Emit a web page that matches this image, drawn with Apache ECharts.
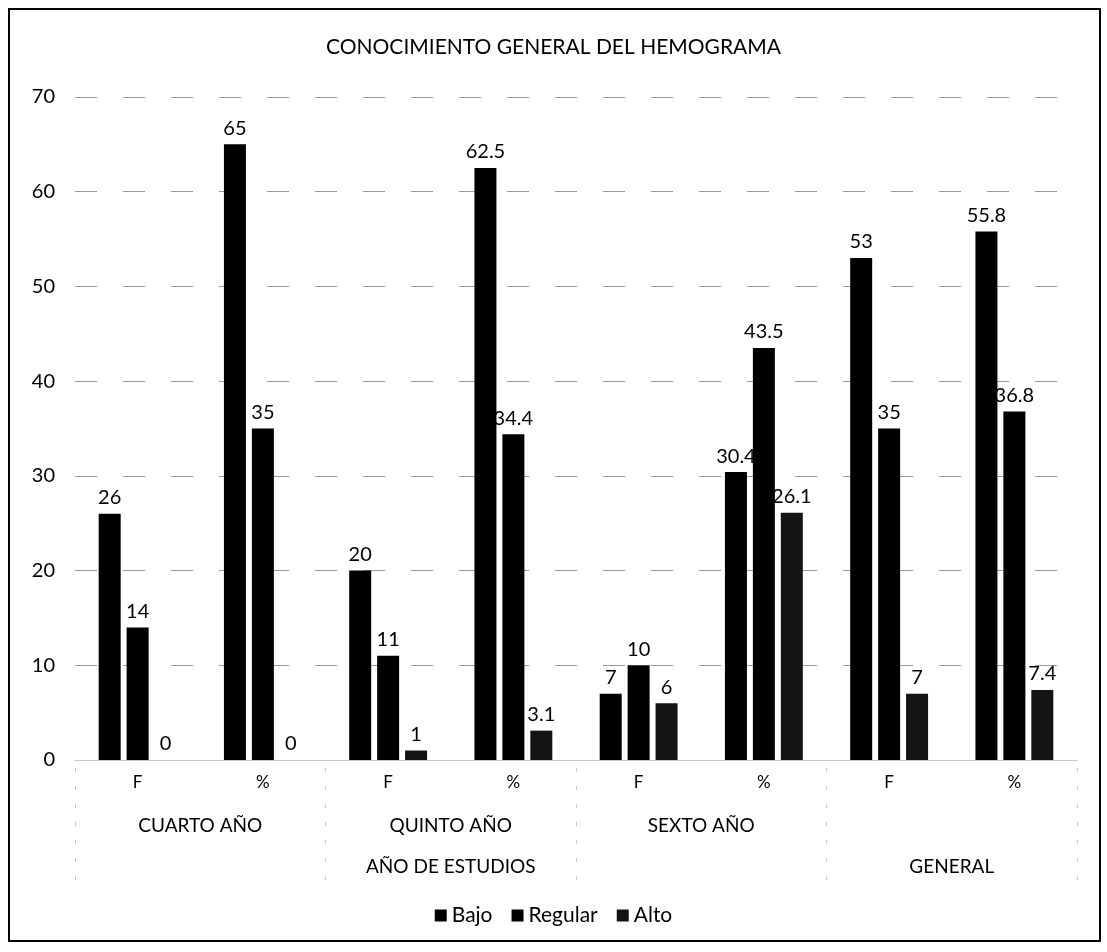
<!DOCTYPE html>
<html>
<head>
<meta charset="utf-8">
<title>Conocimiento general del hemograma</title>
<script src="https://cdn.jsdelivr.net/npm/echarts@6/dist/echarts.min.js"></script>
<style>
  html, body { margin: 0; padding: 0; background: #fff; }
  #chart { width: 1107px; height: 952px; }
</style>
</head>
<body>
<div id="chart"></div>
<script>
// Inner category level: frequency (F) and percentage (%) per group
const categories = ['F', '%', 'F', '%', 'F', '%', 'F', '%'];
// Middle level: study year (the GENERAL pair has no middle label)
const yearLabels = ['CUARTO AÑO', 'QUINTO AÑO', 'SEXTO AÑO', ''];
// Outer level, one slot per pair of categories
const outerLabels = ['', 'AÑO DE ESTUDIOS', '', 'GENERAL'];

const seriesNames = ['Bajo', 'Regular', 'Alto'];
const bajo    = [26, 65, 20, 62.5, 7, 30.4, 53, 55.8];
const regular = [14, 35, 11, 34.4, 10, 43.5, 35, 36.8];
const alto    = [0, 0, 1, 3.1, 6, 26.1, 7, 7.4];

const yMin = 0, yMax = 70, yStep = 10;

const FONT = 'Lato, "Open Sans", sans-serif';
const chart = echarts.init(document.getElementById('chart'), null, { renderer: 'canvas' });

function barSeries(name, data, color) {
  return {
    name: name,
    type: 'bar',
    xAxisIndex: 0,
    data: data,
    barWidth: 22,
    barGap: '27%',
    itemStyle: { color: color },
    label: {
      show: true,
      position: 'top',
      distance: 6,
      color: '#000',
      fontFamily: FONT,
      fontSize: 20
    }
  };
}

chart.setOption({
  backgroundColor: '#fff',
  animation: false,
  textStyle: { fontFamily: FONT },
  title: {
    text: 'CONOCIMIENTO GENERAL DEL HEMOGRAMA',
    left: 'center',
    top: 32,
    textStyle: { color: '#000', fontFamily: FONT, fontSize: 21, fontWeight: 'normal' }
  },
  legend: {
    data: seriesNames,
    top: 900,
    left: 'center',
    icon: 'rect',
    itemWidth: 12,
    itemHeight: 12,
    itemGap: 19,
    textStyle: { color: '#000', fontFamily: FONT, fontSize: 21 }
  },
  grid: { left: 75, right: 30, top: 97, bottom: 192, containLabel: false },
  xAxis: [
    {
      type: 'category',
      data: categories,
      position: 'bottom',
      axisLine: { show: true, lineStyle: { color: '#c8c8c8', width: 1 } },
      axisTick: { show: false },
      axisLabel: { color: '#000', fontFamily: FONT, fontSize: 17, margin: 14, interval: 0 }
    },
    {
      type: 'category',
      data: yearLabels,
      position: 'bottom',
      offset: 56,
      axisLine: { show: false },
      axisTick: { show: false },
      axisLabel: { color: '#000', fontFamily: FONT, fontSize: 19, margin: 0, interval: 0 }
    },
    {
      type: 'category',
      data: outerLabels,
      position: 'bottom',
      offset: 97,
      axisLine: { show: false },
      axisTick: { show: false },
      axisLabel: { color: '#000', fontFamily: FONT, fontSize: 19, margin: 0, interval: 0 }
    },
    {
      // faint group separators running through the label rows
      type: 'category',
      data: yearLabels,
      position: 'bottom',
      offset: 120,
      axisLine: { show: false },
      axisLabel: { show: false },
      axisTick: {
        show: true,
        inside: true,
        length: 112,
        interval: 0,
        lineStyle: { color: '#c8c8c8', width: 1, type: [4, 14] }
      }
    }
  ],
  yAxis: {
    type: 'value',
    min: yMin,
    max: yMax,
    interval: yStep,
    axisLine: { show: false },
    axisTick: { show: false },
    axisLabel: { color: '#000', fontFamily: FONT, fontSize: 20, margin: 20 },
    splitLine: { show: true, lineStyle: { color: '#9a9a9a', width: 1, type: [22, 26] } }
  },
  graphic: [
    {
      type: 'rect',
      silent: true,
      shape: { x: 9, y: 9, width: 1091, height: 932 },
      style: { fill: 'none', stroke: '#000', lineWidth: 2 }
    }
  ],
  series: [
    barSeries(seriesNames[0], bajo, '#000'),
    barSeries(seriesNames[1], regular, '#000'),
    barSeries(seriesNames[2], alto, '#141414')
  ]
});
</script>
</body>
</html>
